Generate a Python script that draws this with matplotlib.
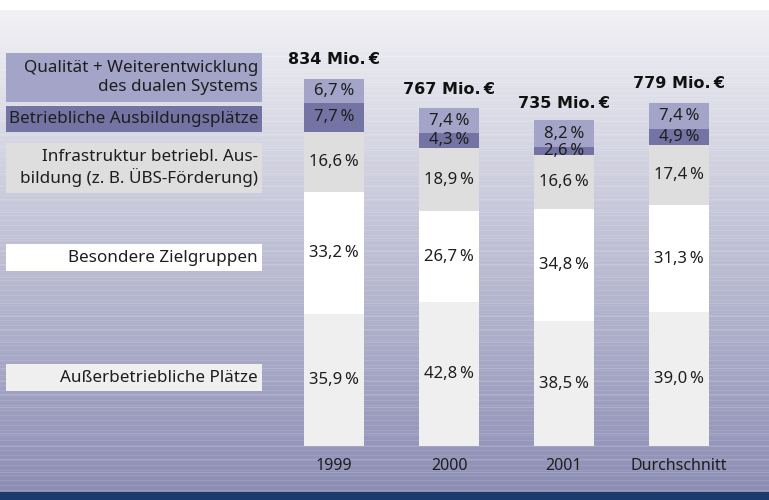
import numpy as np
import matplotlib
matplotlib.use("Agg")
import matplotlib.pyplot as plt
from matplotlib.patches import Rectangle
from matplotlib.colors import to_rgb

# ---------------- data ----------------
categories = ["1999", "2000", "2001", "Durchschnitt"]
totals = [834, 767, 735, 779]
total_labels = ["834 Mio.\u2009€", "767 Mio.\u2009€", "735 Mio.\u2009€", "779 Mio.\u2009€"]

seg_names = [
    "Außerbetriebliche Plätze",
    "Besondere Zielgruppen",
    "Infrastruktur betriebl. Aus-\nbildung (z. B. ÜBS-Förderung)",
    "Betriebliche Ausbildungsplätze",
    "Qualität + Weiterentwicklung\ndes dualen Systems",
]
ausserbetrieblich = [35.9, 42.8, 38.5, 39.0]
besondere = [33.2, 26.7, 34.8, 31.3]
infrastruktur = [16.6, 18.9, 16.6, 17.4]
betrieblich = [7.7, 4.3, 2.6, 4.9]
qualitaet = [6.7, 7.4, 8.2, 7.4]
shares = [ausserbetrieblich, besondere, infrastruktur, betrieblich, qualitaet]

seg_colors = ["#efefef", "#ffffff", "#dedede", "#7474a4", "#a4a4c8"]

FONT = ["Noto Sans", "DejaVu Sans"]
BOLD_FONT = ["DejaVu Sans"]
plt.rcParams["font.family"] = FONT
TXT = "#1e1e1e"

W, H = 769, 500
fig = plt.figure(figsize=(W / 100, H / 100), dpi=100)

# ---------------- background ----------------
bg = fig.add_axes([0, 0, 1, 1], zorder=-5)
bg.set_axis_off()
top_c = np.array(to_rgb("#f1f1f5"))
bot_c = np.array(to_rgb("#8c8db4"))
navy = np.array(to_rgb("#1b3a6d"))
img = np.ones((H, 1, 3))
g0, g1 = 10, 492
for r in range(H):
    if r < g0:
        img[r, 0] = 1.0
    elif r < g1:
        t = (r - g0) / (g1 - g0)
        c = top_c * (1 - t) + bot_c * t
        if r % 5 == 0:
            c = c + (1 - c) * 0.10
        elif r % 13 == 4:
            c = c + (1 - c) * 0.16
        img[r, 0] = np.clip(c, 0, 1)
    else:
        img[r, 0] = navy
bg.imshow(img, aspect="auto", extent=[0, 1, 0, 1], interpolation="nearest")
bg.set_xlim(0, 1)
bg.set_ylim(0, 1)

# ---------------- bars ----------------
px_per_unit = 0.44
ax_left, ax_bottom = 276.5, 54
ax_w, ax_h = 460, 436
ax = fig.add_axes([ax_left / W, ax_bottom / H, ax_w / W, ax_h / H])
ax.patch.set_visible(False)
ax.set_xlim(-0.5, 3.5)
ax.set_ylim(0, ax_h / px_per_unit)
for s in ax.spines.values():
    s.set_visible(False)
ax.set_yticks([])

x = np.arange(len(categories))
bottom = np.zeros(len(categories))
for vals, col in zip(shares, seg_colors):
    h = np.array(totals) * np.array(vals) / 100.0
    ax.bar(x, h, bottom=bottom, width=0.52, color=col, edgecolor="none")
    for xi, b, hh, v in zip(x, bottom, h, vals):
        ax.text(xi, b + hh / 2, f"{v:.1f}".replace(".", ",") + "\u2009%",
                ha="center", va="center", fontsize=12, color=TXT)
    bottom += h

for xi, t, lab in zip(x, totals, total_labels):
    ax.annotate(lab, (xi, t), xytext=(0, 15), textcoords="offset pixels",
                ha="center", va="baseline", fontsize=11.5, fontweight="bold",
                family=BOLD_FONT, color="#111111")

ax.set_xticks(x, categories)
ax.tick_params(axis="x", length=0, pad=9, labelsize=11.5, labelcolor=TXT)

# ---------------- left legend boxes ----------------
legend_boxes = [  # (top px, bottom px) from top of figure
    (364, 391),
    (244, 271),
    (143, 193),
    (106, 132),
    (53, 102),
]
for name, col, (yt, yb) in zip(seg_names, seg_colors, legend_boxes):
    fig.patches.append(Rectangle((6 / W, 1 - yb / H), 256 / W, (yb - yt) / H,
                                 transform=fig.transFigure, facecolor=col,
                                 edgecolor="none", zorder=1))
    fig.text(258 / W, 1 - (yt + yb) / 2 / H, name, ha="right", va="center",
             fontsize=12.3, color=TXT, linespacing=1.25, multialignment="right", zorder=2)

fig.savefig("out.png", dpi=100)
